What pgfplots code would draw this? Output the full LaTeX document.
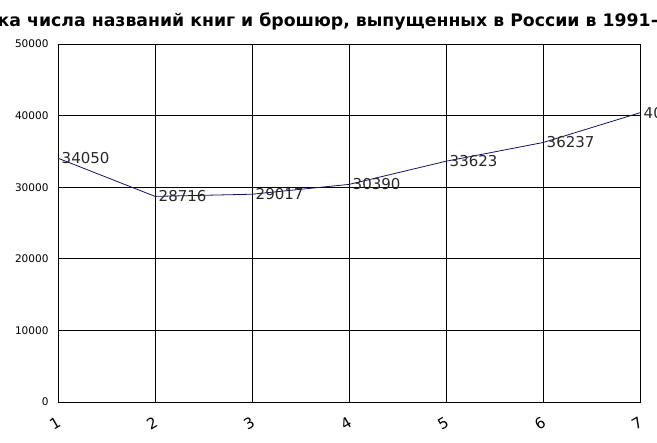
\documentclass[border=0pt]{standalone}
\usepackage{pgfplots}
\pgfplotsset{compat=1.18}
\usepackage{fontspec}
\setmainfont{DejaVu Sans}
\definecolor{linenavy}{RGB}{20,20,100}
\definecolor{labelgray}{RGB}{40,40,40}

\begin{document}
\begin{tikzpicture}[x=1pt,y=1pt]
\begin{axis}[
    at={(58pt,41pt)},
    anchor=south west,
    scale only axis,
    width=582pt,
    height=358pt,
    xmin=1, xmax=7,
    ymin=0, ymax=50000,
    xtick={1,...,7},
    ytick={0,10000,...,50000},
    scaled y ticks=false,
    /pgf/number format/.cd, 1000 sep={}, assume math mode=true,
    /pgfplots/.cd,
    grid=major,
    major grid style={black, line width=0.8pt},
    axis line style={black, line width=0.8pt},
    major tick length=0pt,
    yticklabel style={font=\fontsize{10.5}{10.5}\selectfont, xshift=-6pt},
    xticklabel style={font=\fontsize{15}{15}\selectfont, anchor=center, yshift=-21pt, xshift=-3pt, rotate=30},
    clip=false,
    nodes near coords,
    every node near coord/.append style={anchor=west, font=\fontsize{15}{15}\selectfont, color=labelgray},
]
\addplot[color=linenavy, line width=0.8pt, mark=none] coordinates {
    (1,34050) (2,28716) (3,29017) (4,30390) (5,33623) (6,36237) (7,40400)
};
\end{axis}
\node[font=\bfseries\fontsize{17.3}{17.3}\selectfont] at (328.5,421) {Динамика числа названий книг и брошюр, выпущенных в России в 1991-1997 гг.};
\pgfresetboundingbox
\useasboundingbox (0,0) rectangle (657,443);
\end{tikzpicture}
\end{document}
